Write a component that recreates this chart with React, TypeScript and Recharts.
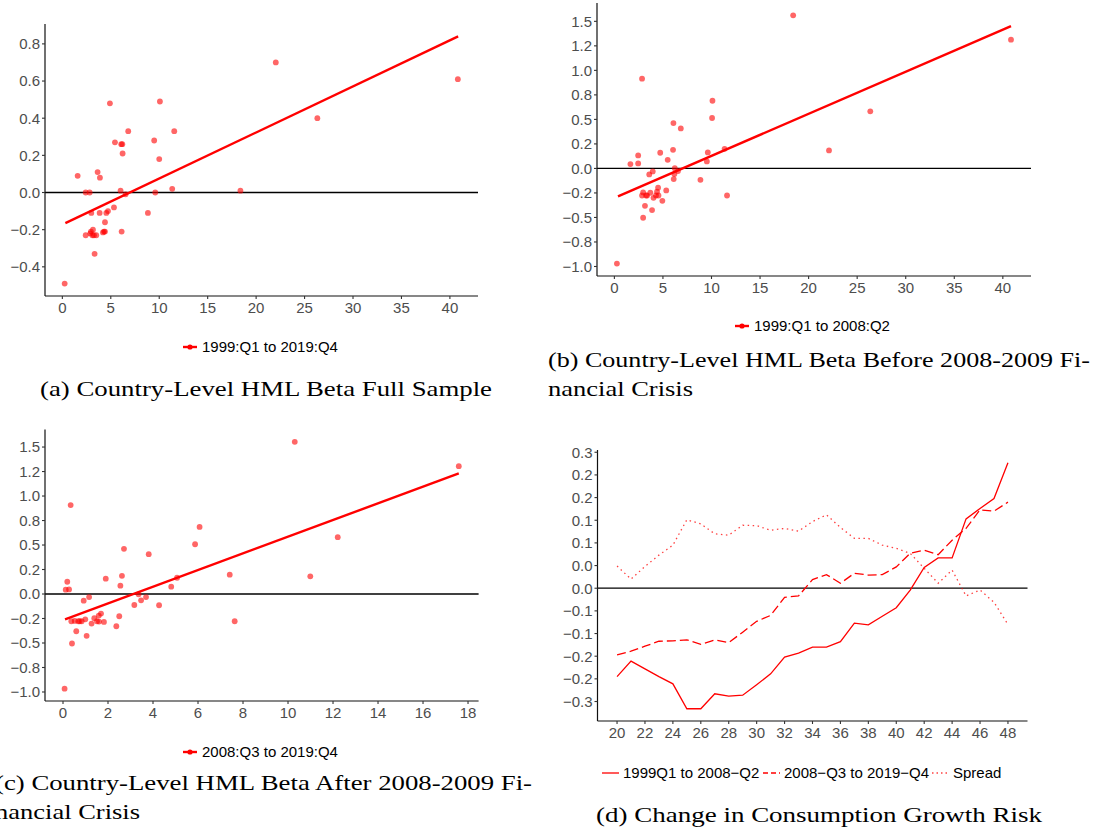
import { ComposedChart, LineChart, Line, Scatter, XAxis, YAxis, ReferenceLine } from "recharts";

// (a) full sample 1999:Q1 to 2019:Q4
const fullX = [0.24, 1.58, 2.41, 2.82, 2.41, 2.89, 3.16, 2.99, 3.26, 3.33, 3.5, 3.64, 3.85, 3.88, 4.19, 4.4, 4.4, 4.54, 4.71, 4.91, 5.33, 5.43, 6.01, 6.08, 6.19, 6.12, 6.22, 6.53, 6.8, 8.83, 9.48, 9.59, 10.0, 10.07, 11.34, 11.55, 18.38, 22.03, 26.32, 40.82, 3.1, 4.3, 2.95];
const fullY = [-0.49, 0.09, 0.0, 0.0, -0.23, -0.22, -0.2, -0.11, -0.23, -0.33, -0.23, 0.11, -0.11, 0.08, -0.215, -0.16, -0.21, -0.11, -0.1, 0.48, -0.08, 0.27, 0.01, 0.26, 0.26, -0.21, 0.21, -0.01, 0.33, -0.11, 0.28, 0.0, 0.18, 0.49, 0.02, 0.33, 0.01, 0.7, 0.4, 0.61, -0.23, -0.21, -0.21];
const fullFitX = [0.31, 40.85];
const fullFitY = [-0.165, 0.84];

// (b) before crisis 1999:Q1 to 2008:Q2
const preX = [0.26, 1.65, 2.45, 2.45, 2.85, 2.96, 2.85, 2.96, 3.15, 3.26, 3.37, 3.59, 3.7, 3.88, 3.95, 4.03, 4.28, 4.39, 4.5, 4.54, 4.72, 4.94, 5.34, 5.49, 6.04, 6.08, 6.11, 6.18, 6.22, 6.55, 6.84, 8.86, 9.52, 9.62, 10.06, 10.1, 11.35, 11.6, 18.41, 22.1, 26.35, 40.84];
const preY = [-0.97, 0.044, 0.133, 0.051, 0.915, -0.245, -0.276, -0.503, -0.381, -0.276, -0.276, -0.061, -0.248, -0.425, -0.031, -0.3, -0.276, -0.238, -0.197, -0.276, 0.16, -0.33, -0.224, 0.088, 0.19, 0.463, -0.109, -0.058, 0.003, -0.027, 0.408, -0.116, 0.071, 0.163, 0.514, 0.69, 0.2, -0.276, 1.561, 0.184, 0.582, 1.313];
const preFitX = [0.37, 40.84];
const preFitY = [-0.286, 1.452];

// (c) after crisis 2008:Q3 to 2019:Q4
const postX = [0.07, 0.12, 0.19, 0.27, 0.34, 0.37, 0.4, 0.52, 0.59, 0.68, 0.74, 0.83, 0.92, 0.99, 1.05, 1.16, 1.27, 1.39, 1.51, 1.59, 1.6, 1.69, 1.82, 1.9, 2.37, 2.5, 2.55, 2.62, 2.71, 3.17, 3.36, 3.47, 3.69, 3.81, 4.27, 4.81, 5.07, 5.87, 6.07, 7.41, 7.63, 10.3, 10.99, 12.21, 17.59];
const postY = [-0.966, 0.044, 0.125, 0.047, 0.908, -0.278, -0.505, -0.275, -0.38, -0.278, -0.278, -0.278, -0.068, -0.258, -0.427, -0.031, -0.302, -0.247, -0.278, -0.22, -0.281, -0.2, -0.285, 0.156, -0.329, -0.227, 0.085, 0.186, 0.461, -0.112, -0.003, -0.064, -0.031, 0.407, -0.115, 0.075, 0.166, 0.508, 0.685, 0.197, -0.278, 1.553, 0.18, 0.58, 1.305];
const postFitX = [0.09, 17.59];
const postFitY = [-0.258, 1.231];

// (d) consumption growth risk by age
const ages = [20, 21, 22, 23, 24, 25, 26, 27, 28, 29, 30, 31, 32, 33, 34, 35, 36, 37, 38, 39, 40, 41, 42, 43, 44, 45, 46, 47, 48];
const riskEarly = [-0.195, -0.161, -0.178, -0.195, -0.211, -0.266, -0.266, -0.233, -0.238, -0.236, -0.213, -0.189, -0.152, -0.143, -0.13, -0.13, -0.118, -0.077, -0.081, -0.062, -0.043, -0.004, 0.046, 0.067, 0.067, 0.153, 0.176, 0.198, 0.277];
const riskLate = [-0.147, -0.139, -0.128, -0.117, -0.116, -0.114, -0.124, -0.114, -0.12, -0.097, -0.073, -0.06, -0.02, -0.017, 0.019, 0.03, 0.011, 0.033, 0.029, 0.03, 0.047, 0.077, 0.084, 0.074, 0.106, 0.132, 0.173, 0.17, 0.19];
const riskSpread = [0.049, 0.02, 0.048, 0.073, 0.095, 0.151, 0.142, 0.12, 0.117, 0.139, 0.138, 0.128, 0.132, 0.126, 0.147, 0.162, 0.134, 0.11, 0.11, 0.095, 0.088, 0.077, 0.044, 0.011, 0.04, -0.017, -0.004, -0.031, -0.08];

// ticks
const betaTicks40 = [0, 5, 10, 15, 20, 25, 30, 35, 40];
const betaTicks18 = [0, 2, 4, 6, 8, 10, 12, 14, 16, 18];
const ageTicks = [20, 22, 24, 26, 28, 30, 32, 34, 36, 38, 40, 42, 44, 46, 48];
const fullYTicks = [-0.4, -0.2, 0, 0.2, 0.4, 0.6, 0.8];
const fullYLabels = ["\u22120.4", "\u22120.2", "0.0", "0.2", "0.4", "0.6", "0.8"];
const splitYTicks = [-1, -0.75, -0.5, -0.25, 0, 0.25, 0.5, 0.75, 1, 1.25, 1.5];
const splitYLabels = ["\u22121.0", "\u22120.8", "\u22120.5", "\u22120.2", "0.0", "0.2", "0.5", "0.8", "1.0", "1.2", "1.5"];
const riskYTicks = [-0.25, -0.2, -0.15, -0.1, -0.05, 0, 0.05, 0.1, 0.15, 0.2, 0.25, 0.3];
const riskYLabels = ["\u22120.3", "\u22120.2", "\u22120.2", "\u22120.1", "\u22120.1", "0.0", "0.0", "0.1", "0.1", "0.2", "0.2", "0.3"];

const RED = "#ff0000";
const sans = "'Liberation Sans', Arial, sans-serif";
const serif = "'Liberation Serif', 'Times New Roman', serif";
const tickStyle = { fill: "#4d4d4d", fontSize: 15, fontFamily: sans };
const axisLine = { stroke: "#111", strokeWidth: 1.2 };
const tickLine = { stroke: "#333", strokeWidth: 1.1 };

const zip = (xs: number[], ys: number[]) => xs.map((x, i) => ({ x, y: ys[i] }));
const labelFor = (ticks: number[], labels: string[]) => (v: number) =>
  labels[ticks.findIndex((t) => Math.abs(t - v) < 1e-9)] ?? String(v);

const Dot = (p: any) => <circle cx={p.cx} cy={p.cy} r={2.9} fill={RED} fillOpacity={0.6} />;

interface PanelProps {
  left: number;
  top: number;
  width: number;
  height: number;
  margin: { top: number; right: number; left: number; bottom: number };
  xDomain: [number, number];
  xTicks: number[];
  yDomain: [number, number];
  yTicks: number[];
  yLabels: string[];
  xs: number[];
  ys: number[];
  fitX: number[];
  fitY: number[];
}

function BetaPanel(p: PanelProps) {
  return (
    <div style={{ position: "absolute", left: p.left, top: p.top }}>
      <ComposedChart width={p.width} height={p.height} margin={p.margin}>
        <XAxis
          type="number"
          dataKey="x"
          domain={p.xDomain}
          ticks={p.xTicks}
          allowDataOverflow
          interval={0}
          height={24}
          tickSize={3}
          tickMargin={3}
          tick={tickStyle}
          axisLine={axisLine}
          tickLine={tickLine}
        />
        <YAxis
          type="number"
          dataKey="y"
          domain={p.yDomain}
          ticks={p.yTicks}
          allowDataOverflow
          interval={0}
          width={45}
          tickSize={3}
          tickMargin={2}
          tick={tickStyle}
          axisLine={axisLine}
          tickLine={tickLine}
          tickFormatter={labelFor(p.yTicks, p.yLabels)}
        />
        <ReferenceLine y={0} stroke="#000" strokeWidth={1.3} />
        <Scatter data={zip(p.xs, p.ys)} shape={Dot} isAnimationActive={false} />
        <Line
          data={zip(p.fitX, p.fitY)}
          dataKey="y"
          type="linear"
          stroke={RED}
          strokeWidth={2.4}
          dot={false}
          activeDot={false}
          isAnimationActive={false}
        />
      </ComposedChart>
    </div>
  );
}

function PointKey({ left, top, label }: { left: number; top: number; label: string }) {
  return (
    <div style={{ position: "absolute", left, top: top - 9, height: 18, display: "flex", alignItems: "center", gap: 5 }}>
      <svg width={14} height={10}>
        <line x1={0} y1={5} x2={14} y2={5} stroke={RED} strokeWidth={2.4} />
        <circle cx={7} cy={5} r={2.6} fill={RED} />
      </svg>
      <span style={{ fontFamily: sans, fontSize: 15, lineHeight: "18px", color: "#000" }}>{label}</span>
    </div>
  );
}

function LineKey({ left, top, label, dash, opacity }: { left: number; top: number; label: string; dash?: string; opacity?: number }) {
  return (
    <div style={{ position: "absolute", left, top: top - 9, height: 18, display: "flex", alignItems: "center", gap: 4 }}>
      <svg width={17} height={10}>
        <line x1={0} y1={5} x2={17} y2={5} stroke={RED} strokeOpacity={opacity ?? 1} strokeWidth={1.3} strokeDasharray={dash} />
      </svg>
      <span style={{ fontFamily: sans, fontSize: 15, lineHeight: "18px", color: "#000" }}>{label}</span>
    </div>
  );
}

const captions = [
  { x: 40, y: 396, w: 452, text: "(a) Country-Level HML Beta Full Sample" },
  { x: 548, y: 367, w: 542, text: "(b) Country-Level HML Beta Before 2008-2009 Fi-" },
  { x: 548, y: 396, w: 145, text: "nancial Crisis" },
  { x: -5, y: 790, w: 537, text: "(c) Country-Level HML Beta After 2008-2009 Fi-" },
  { x: -5, y: 819, w: 145, text: "nancial Crisis" },
  { x: 596, y: 822, w: 446, text: "(d) Change in Consumption Growth Risk" },
];

export default function App() {
  const riskRows = ages.map((age, i) => ({ age, early: riskEarly[i], late: riskLate[i], spread: riskSpread[i] }));
  return (
    <div style={{ position: "absolute", left: 0, top: 0, width: 1097, height: 827, background: "#fff", overflow: "hidden" }}>
      <BetaPanel
        left={0}
        top={0}
        width={490}
        height={320}
        margin={{ top: 24, right: 12, left: 0, bottom: 0 }}
        xDomain={[-1.79, 42.9]}
        xTicks={betaTicks40}
        yDomain={[-0.557, 0.907]}
        yTicks={fullYTicks}
        yLabels={fullYLabels}
        xs={fullX}
        ys={fullY}
        fitX={fullFitX}
        fitY={fullFitY}
      />
      <BetaPanel
        left={552}
        top={0}
        width={490}
        height={300}
        margin={{ top: 3, right: 11, left: 0, bottom: 0 }}
        xDomain={[-1.79, 42.9]}
        xTicks={betaTicks40}
        yDomain={[-1.097, 1.687]}
        yTicks={splitYTicks}
        yLabels={splitYLabels}
        xs={preX}
        ys={preY}
        fitX={preFitX}
        fitY={preFitY}
      />
      <BetaPanel
        left={0}
        top={405}
        width={490}
        height={320}
        margin={{ top: 24.5, right: 11.4, left: 0, bottom: 0 }}
        xDomain={[-0.8, 18.47]}
        xTicks={betaTicks18}
        yDomain={[-1.092, 1.679]}
        yTicks={splitYTicks}
        yLabels={splitYLabels}
        xs={postX}
        ys={postY}
        fitX={postFitX}
        fitY={postFitY}
      />

      <div style={{ position: "absolute", left: 552, top: 426 }}>
        <LineChart width={490} height={319} data={riskRows} margin={{ top: 24, right: 14.5, left: 0, bottom: 0 }}>
          <XAxis
            type="number"
            dataKey="age"
            domain={[18.6, 49.4]}
            ticks={ageTicks}
            allowDataOverflow
            interval={0}
            height={24}
            tickSize={3}
            tickMargin={3}
            tick={tickStyle}
            axisLine={axisLine}
            tickLine={tickLine}
          />
          <YAxis
            type="number"
            domain={[-0.293, 0.305]}
            ticks={riskYTicks}
            allowDataOverflow
            interval={0}
            width={45.5}
            tickSize={3}
            tickMargin={2}
            tick={tickStyle}
            axisLine={axisLine}
            tickLine={tickLine}
            tickFormatter={labelFor(riskYTicks, riskYLabels)}
          />
          <ReferenceLine y={0} stroke="#000" strokeWidth={1.3} />
          <Line dataKey="early" type="linear" stroke={RED} strokeWidth={1.3} dot={false} activeDot={false} isAnimationActive={false} />
          <Line dataKey="late" type="linear" stroke={RED} strokeWidth={1.3} strokeDasharray="9 4" dot={false} activeDot={false} isAnimationActive={false} />
          <Line dataKey="spread" type="linear" stroke={RED} strokeOpacity={0.75} strokeWidth={1.3} strokeDasharray="1.5 3.5" dot={false} activeDot={false} isAnimationActive={false} />
        </LineChart>
      </div>

      <PointKey left={183} top={347} label="1999:Q1 to 2019:Q4" />
      <PointKey left={735} top={326} label="1999:Q1 to 2008:Q2" />
      <PointKey left={183} top={752} label="2008:Q3 to 2019:Q4" />
      <LineKey left={602} top={773} label={"1999Q1 to 2008\u2212Q2"} />
      <LineKey left={763} top={773} label={"2008\u2212Q3 to 2019\u2212Q4"} dash="5 3" />
      <LineKey left={932} top={773} label="Spread" dash="1.5 3" opacity={0.75} />

      <svg width={1097} height={827} style={{ position: "absolute", left: 0, top: 0, pointerEvents: "none" }}>
        {captions.map((c) => (
          <text
            key={c.text + c.y}
            x={c.x}
            y={c.y}
            textLength={c.w}
            lengthAdjust="spacingAndGlyphs"
            fontFamily={serif}
            fontSize={21}
            fill="#000"
          >
            {c.text}
          </text>
        ))}
      </svg>
    </div>
  );
}
